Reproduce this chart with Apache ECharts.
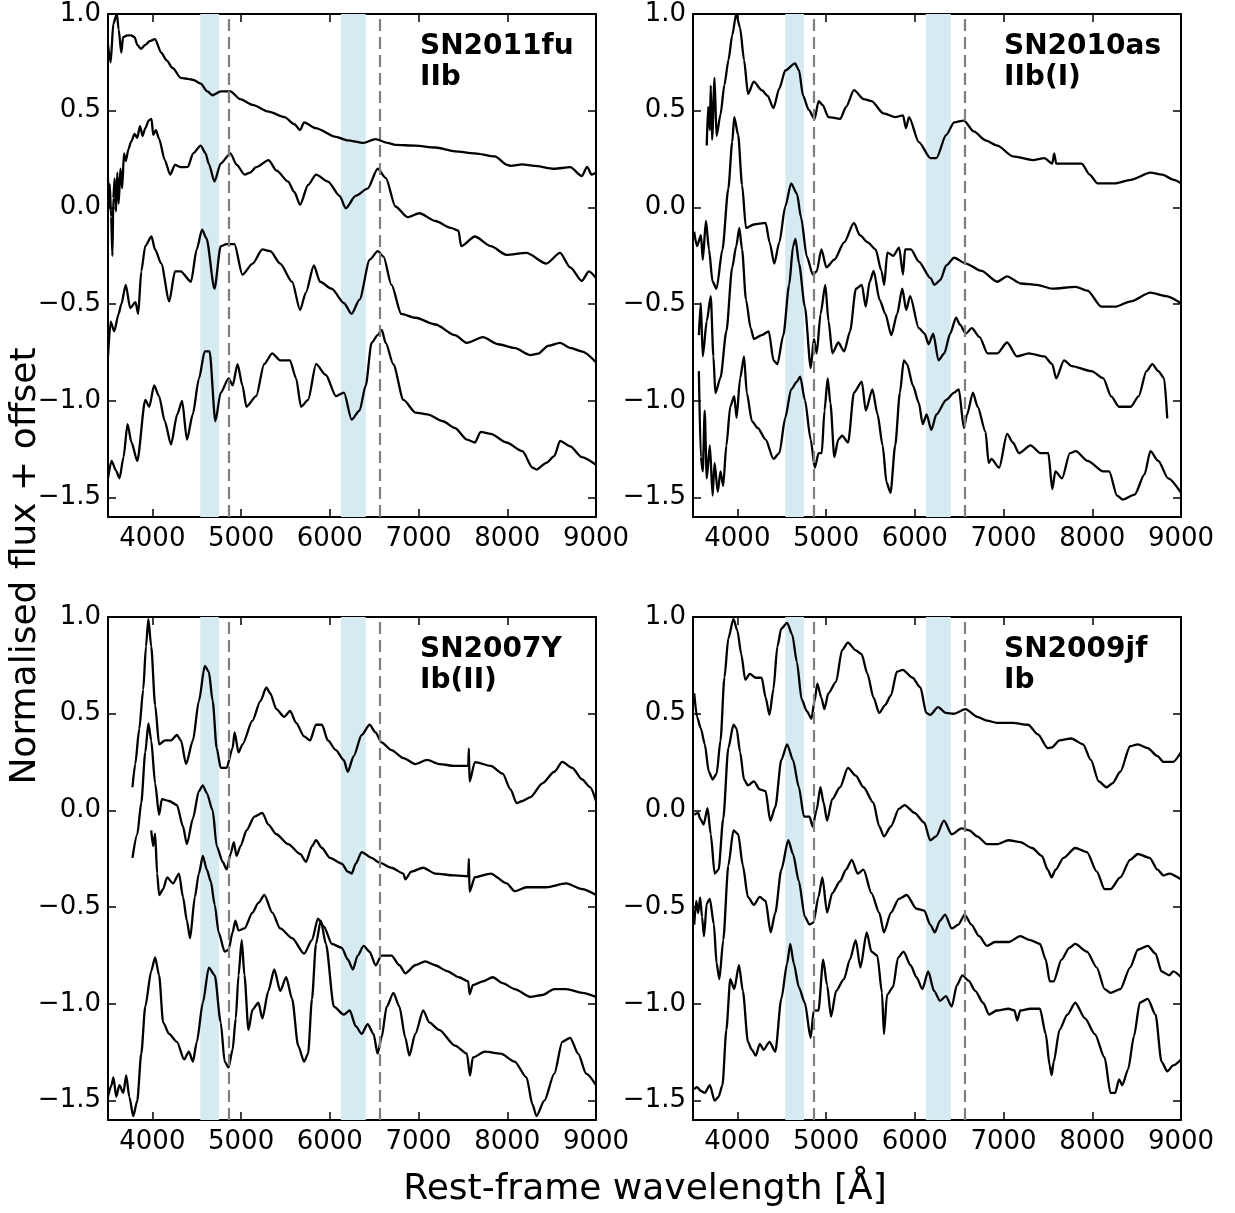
<!DOCTYPE html>
<html>
<head>
<meta charset="utf-8">
<script src="https://cdn.jsdelivr.net/npm/echarts@6/dist/echarts.min.js"></script>
<style>
  html, body { margin: 0; padding: 0; background: #fff; }
  #chart { width: 1235px; height: 1213px; }
</style>
</head>
<body>
<div id="chart"></div>
<script>
// Axis ticks
const xTicks = [4000, 5000, 6000, 7000, 8000, 9000];
const yTicks = [-1.5, -1.0, -0.5, 0.0, 0.5, 1.0];

// Panel labels
const snNames = ['SN2011fu', 'SN2010as', 'SN2007Y', 'SN2009jf'];
const snTypes = ['IIb', 'IIb(I)', 'Ib(II)', 'Ib'];

// Shaded wavelength windows and reference lines [Å]
const bands = [[4540, 4750], [6125, 6405]];
const refLines = [4861, 6563];

// SN2011fu spectra, [wavelength Å, normalised flux + offset]
const fu1 = [[3500,0.84],[3530,0.75],[3560,0.95],[3600,1.0],[3620,0.92],[3650,0.80],[3670,0.88],[3720,0.89],[3760,0.89],[3800,0.88],[3830,0.84],[3870,0.82],[3920,0.84],[3970,0.86],[4030,0.87],[4100,0.80],[4160,0.76],[4230,0.72],[4320,0.67],[4400,0.665],[4460,0.66],[4545,0.64],[4620,0.60],[4680,0.58],[4770,0.60],[4880,0.60],[4990,0.56],[5130,0.53],[5310,0.495],[5490,0.467],[5600,0.43],[5665,0.40],[5710,0.44],[5840,0.41],[6070,0.365],[6200,0.347],[6380,0.334],[6515,0.353],[6650,0.334],[6740,0.323],[6960,0.32],[7190,0.31],[7410,0.29],[7635,0.28],[7860,0.264],[8000,0.22],[8040,0.215],[8170,0.223],[8305,0.215],[8530,0.20],[8710,0.208],[8840,0.162],[8900,0.21],[8950,0.17],[9000,0.18]];
const fu2 = [[3500,0.15],[3510,0.0],[3520,0.12],[3535,-0.05],[3550,-0.25],[3560,0.05],[3575,0.15],[3590,-0.02],[3605,0.18],[3620,0.02],[3640,0.2],[3660,0.1],[3680,0.28],[3700,0.24],[3730,0.30],[3760,0.34],[3800,0.38],[3830,0.36],[3860,0.42],[3890,0.37],[3920,0.41],[3960,0.45],[3990,0.458],[4010,0.375],[4040,0.40],[4075,0.356],[4140,0.245],[4200,0.17],[4255,0.22],[4320,0.208],[4400,0.21],[4460,0.28],[4545,0.32],[4600,0.28],[4635,0.227],[4700,0.134],[4770,0.227],[4880,0.28],[4950,0.22],[5040,0.17],[5100,0.18],[5170,0.208],[5310,0.245],[5400,0.19],[5530,0.134],[5600,0.08],[5665,0.014],[5755,0.116],[5845,0.17],[5980,0.134],[6110,0.06],[6180,-0.004],[6290,0.06],[6425,0.097],[6540,0.20],[6630,0.153],[6740,0.005],[6875,-0.05],[7010,-0.03],[7190,-0.07],[7365,-0.105],[7450,-0.12],[7480,-0.2],[7635,-0.15],[7815,-0.2],[7990,-0.245],[8215,-0.235],[8440,-0.29],[8595,-0.235],[8710,-0.31],[8840,-0.38],[8920,-0.33],[9000,-0.365]];
const fu3 = [[3500,-0.77],[3530,-0.59],[3570,-0.64],[3620,-0.55],[3650,-0.50],[3700,-0.40],[3750,-0.52],[3810,-0.49],[3840,-0.55],[3875,-0.33],[3920,-0.2],[3990,-0.15],[4030,-0.217],[4100,-0.29],[4190,-0.485],[4255,-0.33],[4320,-0.33],[4435,-0.384],[4500,-0.217],[4560,-0.115],[4610,-0.16],[4700,-0.42],[4770,-0.2],[4835,-0.19],[4925,-0.19],[5015,-0.347],[5130,-0.29],[5240,-0.217],[5330,-0.226],[5440,-0.29],[5575,-0.384],[5665,-0.53],[5730,-0.44],[5820,-0.30],[5890,-0.384],[6020,-0.42],[6160,-0.495],[6245,-0.55],[6335,-0.476],[6450,-0.27],[6540,-0.226],[6605,-0.254],[6695,-0.40],[6805,-0.55],[6965,-0.57],[7190,-0.605],[7410,-0.66],[7545,-0.70],[7725,-0.67],[7900,-0.707],[8080,-0.726],[8260,-0.763],[8350,-0.755],[8460,-0.715],[8595,-0.70],[8710,-0.726],[8840,-0.744],[9000,-0.80]];
const fu4 = [[3500,-1.40],[3540,-1.31],[3590,-1.36],[3630,-1.40],[3675,-1.29],[3720,-1.12],[3765,-1.215],[3830,-1.31],[3920,-0.995],[3965,-1.03],[4020,-0.92],[4075,-0.975],[4140,-1.105],[4210,-1.225],[4280,-1.07],[4335,-1.0],[4390,-1.2],[4455,-1.07],[4525,-0.885],[4590,-0.744],[4645,-0.744],[4710,-1.105],[4770,-0.957],[4860,-0.883],[4905,-0.92],[4960,-0.81],[5015,-0.92],[5060,-1.03],[5170,-0.975],[5260,-0.81],[5350,-0.754],[5440,-0.79],[5550,-0.79],[5620,-0.883],[5675,-1.03],[5755,-0.995],[5845,-0.81],[5955,-0.866],[6070,-0.975],[6160,-0.957],[6245,-1.096],[6335,-1.05],[6405,-0.92],[6470,-0.70],[6540,-0.66],[6585,-0.633],[6630,-0.70],[6715,-0.81],[6830,-0.995],[6965,-1.06],[7100,-1.07],[7275,-1.105],[7410,-1.14],[7545,-1.2],[7635,-1.215],[7700,-1.16],[7815,-1.17],[7990,-1.215],[8170,-1.26],[8285,-1.345],[8330,-1.355],[8440,-1.32],[8530,-1.285],[8595,-1.207],[8710,-1.235],[8840,-1.29],[9000,-1.33]];

// SN2010as spectra
const as1 = [[3655,0.32],[3670,0.52],[3690,0.40],[3700,0.63],[3715,0.35],[3743,0.67],[3765,0.37],[3810,0.48],[3854,0.634],[3900,0.763],[3942,0.89],[3987,1.0],[4030,0.93],[4075,0.763],[4120,0.587],[4185,0.65],[4275,0.606],[4340,0.578],[4407,0.513],[4473,0.615],[4540,0.708],[4650,0.745],[4695,0.708],[4740,0.578],[4805,0.504],[4870,0.458],[4916,0.55],[4960,0.53],[5027,0.467],[5160,0.458],[5225,0.52],[5314,0.606],[5425,0.56],[5513,0.55],[5646,0.486],[5780,0.467],[5867,0.476],[5900,0.41],[5935,0.467],[6045,0.338],[6177,0.255],[6243,0.255],[6354,0.375],[6443,0.44],[6553,0.449],[6664,0.393],[6797,0.347],[6930,0.32],[7106,0.264],[7328,0.245],[7460,0.255],[7549,0.227],[7571,0.28],[7593,0.227],[7726,0.227],[7881,0.227],[7970,0.17],[8058,0.125],[8257,0.125],[8434,0.143],[8655,0.18],[8788,0.17],[8920,0.143],[9000,0.125]];
const as2 = [[3513,-0.125],[3545,-0.2],[3590,-0.143],[3610,-0.27],[3646,-0.07],[3680,-0.217],[3721,-0.384],[3765,-0.42],[3832,-0.217],[3898,0.097],[3942,0.338],[3965,0.467],[4009,0.375],[4053,0.116],[4097,-0.106],[4186,-0.088],[4319,-0.08],[4363,-0.18],[4416,-0.29],[4473,-0.18],[4540,0.005],[4606,0.125],[4672,0.07],[4717,-0.05],[4783,-0.254],[4850,-0.347],[4894,-0.33],[4947,-0.217],[5004,-0.31],[5093,-0.27],[5204,-0.18],[5314,-0.08],[5380,-0.143],[5470,-0.18],[5558,-0.217],[5624,-0.328],[5655,-0.4],[5690,-0.233],[5757,-0.25],[5823,-0.208],[5867,-0.347],[5890,-0.217],[5956,-0.217],[6045,-0.28],[6177,-0.365],[6221,-0.4],[6288,-0.375],[6354,-0.3],[6443,-0.26],[6575,-0.29],[6752,-0.328],[6930,-0.384],[7040,-0.356],[7195,-0.393],[7372,-0.4],[7549,-0.42],[7814,-0.41],[7947,-0.43],[8102,-0.513],[8257,-0.513],[8434,-0.485],[8655,-0.44],[8832,-0.458],[9000,-0.495]];
const as3 = [[3566,-0.66],[3588,-0.495],[3610,-0.77],[3655,-0.587],[3700,-0.458],[3730,-0.77],[3752,-0.96],[3810,-0.88],[3876,-0.64],[3942,-0.31],[3987,-0.2],[4022,-0.106],[4053,-0.217],[4097,-0.476],[4150,-0.624],[4186,-0.68],[4275,-0.66],[4354,-0.64],[4407,-0.79],[4451,-0.81],[4518,-0.66],[4584,-0.4],[4628,-0.2],[4655,-0.162],[4695,-0.29],[4761,-0.513],[4827,-0.83],[4863,-0.68],[4894,-0.754],[4938,-0.55],[4991,-0.4],[5027,-0.587],[5071,-0.754],[5137,-0.698],[5204,-0.744],[5270,-0.64],[5336,-0.42],[5403,-0.4],[5447,-0.513],[5491,-0.384],[5536,-0.328],[5602,-0.476],[5668,-0.55],[5735,-0.66],[5801,-0.55],[5859,-0.42],[5903,-0.53],[5947,-0.458],[6045,-0.624],[6111,-0.652],[6155,-0.707],[6208,-0.652],[6266,-0.79],[6332,-0.754],[6398,-0.652],[6465,-0.57],[6509,-0.606],[6575,-0.652],[6642,-0.624],[6730,-0.67],[6819,-0.754],[6930,-0.754],[7040,-0.698],[7151,-0.77],[7284,-0.754],[7460,-0.77],[7549,-0.81],[7593,-0.883],[7682,-0.79],[7770,-0.82],[7991,-0.846],[8124,-0.883],[8213,-0.976],[8301,-1.03],[8434,-1.03],[8522,-0.976],[8611,-0.846],[8677,-0.81],[8744,-0.846],[8810,-0.883],[8845,-1.09]];
const as4 = [[3566,-0.846],[3588,-1.29],[3610,-1.364],[3632,-1.05],[3655,-1.4],[3690,-1.23],[3721,-1.49],[3743,-1.32],[3779,-1.47],[3810,-1.364],[3840,-1.44],[3876,-1.23],[3920,-1.03],[3965,-0.975],[3991,-1.087],[4031,-0.883],[4075,-0.77],[4106,-0.957],[4164,-1.105],[4230,-1.14],[4319,-1.2],[4407,-1.3],[4473,-1.27],[4540,-1.087],[4606,-0.94],[4672,-0.9],[4708,-0.874],[4761,-0.995],[4827,-1.2],[4872,-1.345],[4916,-1.27],[4951,-1.27],[4982,-1.05],[5018,-0.883],[5049,-1.013],[5093,-1.29],[5137,-1.2],[5181,-1.18],[5248,-1.215],[5314,-0.957],[5403,-0.9],[5447,-1.05],[5522,-0.94],[5580,-1.07],[5637,-1.23],[5681,-1.42],[5726,-1.475],[5779,-1.23],[5832,-0.957],[5876,-0.79],[5912,-0.81],[5978,-0.92],[6045,-1.01],[6089,-1.12],[6133,-1.07],[6186,-1.15],[6243,-1.07],[6354,-0.995],[6443,-0.957],[6496,-0.94],[6553,-1.14],[6589,-1.07],[6655,-0.957],[6708,-1.03],[6797,-1.16],[6832,-1.32],[6863,-1.30],[6951,-1.345],[7040,-1.17],[7106,-1.215],[7173,-1.27],[7305,-1.23],[7416,-1.27],[7505,-1.27],[7549,-1.456],[7584,-1.364],[7659,-1.4],[7748,-1.27],[7814,-1.26],[7947,-1.31],[8124,-1.364],[8190,-1.364],[8279,-1.49],[8345,-1.51],[8478,-1.484],[8589,-1.38],[8655,-1.26],[8744,-1.31],[8855,-1.4],[9000,-1.475]];

// SN2007Y spectra
const y1 = [[3776,0.12],[3807,0.24],[3852,0.42],[3897,0.625],[3928,0.848],[3955,0.99],[3987,0.848],[4031,0.545],[4076,0.342],[4143,0.362],[4210,0.362],[4277,0.39],[4322,0.362],[4380,0.24],[4457,0.362],[4524,0.565],[4591,0.747],[4636,0.717],[4680,0.565],[4725,0.322],[4770,0.22],[4837,0.22],[4904,0.322],[4927,0.403],[4971,0.30],[5016,0.342],[5128,0.464],[5217,0.565],[5285,0.636],[5329,0.605],[5397,0.524],[5486,0.484],[5553,0.514],[5620,0.453],[5710,0.383],[5777,0.362],[5844,0.443],[5911,0.443],[5978,0.362],[6068,0.312],[6157,0.261],[6202,0.2],[6269,0.281],[6359,0.39],[6448,0.443],[6516,0.403],[6583,0.352],[6695,0.312],[6829,0.271],[6963,0.24],[7097,0.261],[7232,0.24],[7411,0.23],[7560,0.23],[7567,0.32],[7575,0.15],[7635,0.25],[7814,0.23],[7948,0.19],[8037,0.109],[8105,0.038],[8172,0.049],[8262,0.069],[8396,0.14],[8530,0.2],[8620,0.251],[8732,0.22],[8844,0.16],[8934,0.12],[9000,0.049]];
const y2 = [[3776,-0.245],[3830,-0.123],[3875,0.04],[3920,0.30],[3955,0.45],[3987,0.362],[4031,0.14],[4076,-0.022],[4107,0.059],[4188,0.049],[4277,0.028],[4345,-0.083],[4389,-0.174],[4457,-0.042],[4524,0.1],[4569,0.13],[4613,0.09],[4680,0.0],[4725,-0.184],[4792,-0.265],[4837,-0.305],[4882,-0.225],[4918,-0.164],[4949,-0.235],[4994,-0.184],[5061,-0.103],[5150,-0.032],[5240,-0.012],[5307,-0.073],[5397,-0.123],[5531,-0.174],[5665,-0.225],[5732,-0.265],[5799,-0.184],[5844,-0.154],[5911,-0.194],[6001,-0.245],[6135,-0.275],[6202,-0.316],[6247,-0.326],[6292,-0.275],[6359,-0.215],[6471,-0.245],[6560,-0.27],[6695,-0.296],[6829,-0.326],[6851,-0.356],[6918,-0.316],[7052,-0.296],[7187,-0.326],[7411,-0.336],[7560,-0.34],[7567,-0.25],[7575,-0.42],[7635,-0.345],[7814,-0.326],[7993,-0.377],[8083,-0.417],[8217,-0.397],[8440,-0.397],[8664,-0.377],[8844,-0.407],[9000,-0.437]];
const y3 = [[3987,-0.103],[4009,-0.184],[4031,-0.12],[4054,-0.326],[4076,-0.437],[4121,-0.407],[4166,-0.346],[4233,-0.377],[4300,-0.326],[4345,-0.447],[4389,-0.569],[4425,-0.66],[4479,-0.447],[4524,-0.326],[4569,-0.235],[4613,-0.305],[4658,-0.366],[4703,-0.488],[4747,-0.63],[4815,-0.73],[4859,-0.72],[4904,-0.63],[4935,-0.569],[4971,-0.62],[5038,-0.61],[5128,-0.528],[5195,-0.478],[5262,-0.437],[5352,-0.528],[5441,-0.61],[5575,-0.66],[5710,-0.74],[5799,-0.67],[5866,-0.559],[5933,-0.6],[6023,-0.69],[6135,-0.71],[6202,-0.77],[6260,-0.822],[6314,-0.75],[6381,-0.7],[6448,-0.73],[6516,-0.8],[6583,-0.75],[6695,-0.75],[6784,-0.8],[6851,-0.842],[6963,-0.8],[7075,-0.78],[7187,-0.8],[7321,-0.83],[7455,-0.862],[7560,-0.883],[7575,-0.95],[7612,-0.903],[7724,-0.883],[7836,-0.862],[7948,-0.893],[8083,-0.923],[8262,-0.964],[8396,-0.954],[8530,-0.923],[8664,-0.923],[8844,-0.943],[9000,-0.964]];
const y4 = [[3499,-1.48],[3540,-1.42],[3561,-1.38],[3593,-1.48],[3628,-1.42],[3673,-1.46],[3705,-1.37],[3740,-1.48],[3785,-1.58],[3830,-1.5],[3875,-1.257],[3920,-1.014],[3987,-0.83],[4031,-0.76],[4076,-0.852],[4121,-1.095],[4188,-1.155],[4277,-1.196],[4358,-1.287],[4412,-1.247],[4457,-1.298],[4501,-1.196],[4569,-0.994],[4636,-0.812],[4703,-0.852],[4770,-1.095],[4815,-1.298],[4859,-1.328],[4904,-1.237],[4940,-1.075],[4971,-0.852],[5007,-0.67],[5038,-0.852],[5083,-1.134],[5128,-1.03],[5195,-0.994],[5240,-1.075],[5307,-0.933],[5374,-0.822],[5441,-0.933],[5508,-0.862],[5575,-0.974],[5643,-1.216],[5710,-1.298],[5755,-1.257],[5799,-0.974],[5844,-0.69],[5898,-0.569],[5956,-0.69],[6046,-1.014],[6157,-1.055],[6225,-1.034],[6292,-1.115],[6359,-1.155],[6426,-1.105],[6493,-1.155],[6538,-1.257],[6583,-1.175],[6641,-1.014],[6717,-0.943],[6784,-1.014],[6851,-1.175],[6896,-1.267],[6963,-1.155],[7053,-1.034],[7120,-1.095],[7232,-1.134],[7411,-1.216],[7545,-1.257],[7580,-1.37],[7612,-1.277],[7747,-1.247],[7926,-1.257],[8083,-1.298],[8217,-1.38],[8284,-1.52],[8329,-1.58],[8418,-1.5],[8530,-1.36],[8620,-1.196],[8709,-1.175],[8799,-1.257],[8889,-1.36],[9000,-1.42]];

// SN2009jf spectra
const jf1 = [[3514,0.605],[3545,0.484],[3589,0.423],[3633,0.342],[3678,0.2],[3722,0.16],[3766,0.19],[3810,0.362],[3854,0.686],[3898,0.889],[3956,0.99],[4000,0.93],[4044,0.808],[4088,0.676],[4141,0.706],[4208,0.686],[4274,0.686],[4318,0.585],[4362,0.494],[4406,0.626],[4451,0.848],[4495,0.94],[4561,0.97],[4618,0.909],[4671,0.767],[4724,0.575],[4782,0.514],[4835,0.474],[4870,0.565],[4901,0.656],[4945,0.585],[4981,0.524],[5025,0.605],[5113,0.666],[5179,0.828],[5246,0.868],[5334,0.828],[5400,0.808],[5466,0.706],[5533,0.585],[5599,0.504],[5665,0.545],[5731,0.595],[5798,0.717],[5864,0.727],[5974,0.686],[6063,0.636],[6129,0.504],[6173,0.494],[6262,0.534],[6350,0.504],[6438,0.5],[6571,0.524],[6703,0.484],[6814,0.464],[6924,0.453],[7101,0.453],[7277,0.443],[7388,0.393],[7498,0.322],[7542,0.326],[7631,0.362],[7763,0.372],[7896,0.342],[7984,0.261],[8073,0.15],[8161,0.12],[8227,0.14],[8316,0.2],[8426,0.332],[8514,0.342],[8625,0.322],[8735,0.281],[8802,0.251],[8912,0.251],[9000,0.302]];
const jf2 = [[3514,-0.022],[3558,-0.012],[3580,-0.042],[3620,-0.073],[3664,0.012],[3700,-0.123],[3744,-0.326],[3788,-0.306],[3841,-0.042],[3898,0.322],[3956,0.443],[3991,0.423],[4031,0.302],[4075,0.16],[4119,0.13],[4186,0.15],[4252,0.109],[4318,0.1],[4371,-0.053],[4428,0.018],[4495,0.261],[4561,0.342],[4627,0.261],[4693,0.12],[4751,-0.032],[4813,-0.032],[4848,-0.083],[4892,0.0],[4936,0.12],[4972,0.04],[5011,-0.053],[5069,0.059],[5157,0.12],[5246,0.22],[5334,0.18],[5422,0.12],[5533,0.04],[5599,-0.083],[5652,-0.134],[5731,-0.083],[5820,0.008],[5886,0.028],[5996,-0.012],[6107,-0.063],[6173,-0.154],[6239,-0.134],[6328,-0.053],[6416,-0.123],[6527,-0.093],[6615,-0.103],[6703,-0.134],[6814,-0.174],[6924,-0.174],[7057,-0.154],[7189,-0.164],[7322,-0.194],[7432,-0.235],[7498,-0.306],[7542,-0.346],[7587,-0.306],[7675,-0.245],[7808,-0.194],[7940,-0.215],[8051,-0.316],[8139,-0.407],[8205,-0.407],[8316,-0.346],[8426,-0.255],[8514,-0.225],[8647,-0.245],[8735,-0.306],[8802,-0.336],[8868,-0.326],[9000,-0.356]];
const jf3 = [[3514,-0.59],[3536,-0.468],[3558,-0.53],[3580,-0.45],[3602,-0.55],[3624,-0.65],[3655,-0.48],[3690,-0.457],[3735,-0.588],[3766,-0.791],[3797,-0.872],[3841,-0.67],[3898,-0.285],[3956,-0.103],[4009,-0.123],[4062,-0.285],[4119,-0.447],[4186,-0.488],[4252,-0.447],[4318,-0.468],[4375,-0.63],[4428,-0.528],[4495,-0.306],[4574,-0.154],[4627,-0.225],[4693,-0.366],[4760,-0.549],[4813,-0.59],[4857,-0.58],[4914,-0.447],[4958,-0.346],[5011,-0.528],[5069,-0.427],[5157,-0.366],[5224,-0.306],[5290,-0.255],[5356,-0.326],[5422,-0.306],[5511,-0.427],[5599,-0.528],[5652,-0.63],[5731,-0.528],[5820,-0.457],[5908,-0.437],[6019,-0.508],[6107,-0.518],[6173,-0.59],[6226,-0.63],[6284,-0.569],[6341,-0.538],[6416,-0.61],[6491,-0.59],[6562,-0.538],[6637,-0.59],[6725,-0.65],[6814,-0.7],[6902,-0.68],[7057,-0.68],[7189,-0.65],[7300,-0.67],[7410,-0.69],[7476,-0.771],[7520,-0.883],[7565,-0.883],[7653,-0.771],[7741,-0.71],[7808,-0.69],[7940,-0.73],[8051,-0.812],[8139,-0.923],[8205,-0.943],[8316,-0.923],[8426,-0.812],[8514,-0.72],[8625,-0.7],[8713,-0.74],[8780,-0.832],[8868,-0.852],[8912,-0.832],[9000,-0.862]];
const jf4 = [[3514,-1.44],[3545,-1.43],[3589,-1.45],[3633,-1.46],[3690,-1.42],[3744,-1.5],[3788,-1.48],[3832,-1.42],[3876,-1.134],[3920,-0.872],[3965,-0.923],[4018,-0.8],[4062,-0.933],[4119,-1.196],[4163,-1.237],[4208,-1.267],[4252,-1.206],[4296,-1.237],[4362,-1.196],[4428,-1.247],[4495,-0.974],[4561,-0.79],[4596,-0.69],[4636,-0.79],[4693,-0.913],[4760,-0.994],[4826,-1.175],[4861,-1.034],[4914,-1.034],[4967,-0.771],[5011,-0.903],[5056,-1.065],[5113,-0.933],[5201,-0.872],[5268,-0.771],[5334,-0.67],[5387,-0.812],[5458,-0.63],[5511,-0.73],[5577,-0.75],[5630,-0.943],[5652,-1.156],[5687,-0.953],[5754,-0.913],[5811,-0.761],[5873,-0.73],[5952,-0.8],[6019,-0.862],[6085,-0.923],[6151,-0.832],[6217,-0.933],[6284,-0.984],[6350,-0.96],[6416,-1.014],[6474,-0.903],[6536,-0.852],[6606,-0.88],[6681,-0.933],[6770,-0.994],[6836,-1.055],[6924,-1.034],[7057,-1.025],[7123,-1.034],[7154,-1.085],[7189,-1.034],[7300,-1.025],[7410,-1.025],[7476,-1.156],[7520,-1.318],[7542,-1.368],[7565,-1.3],[7631,-1.134],[7719,-1.055],[7808,-0.994],[7918,-1.075],[8029,-1.156],[8139,-1.277],[8205,-1.46],[8258,-1.46],[8302,-1.39],[8338,-1.42],[8404,-1.338],[8470,-1.166],[8536,-0.994],[8625,-0.974],[8713,-1.055],[8780,-1.298],[8846,-1.348],[8912,-1.318],[9000,-1.287]];

const spectraSets = [[fu1, fu2, fu3, fu4], [as1, as2, as3, as4], [y1, y2, y3, y4], [jf1, jf2, jf3, jf4]];

// Layout of the 2 x 2 panel grid (pixels)
const gridBoxes = [
  { left: 108, top: 14 }, { left: 693, top: 14 },
  { left: 108, top: 617 }, { left: 693, top: 617 }
];
const PW = 488, PH = 503;
const FONT = 'DejaVu Sans';

const fmtY = v => (v < 0 ? '\u2212' : '') + Math.abs(v).toFixed(1);
const fmtX = v => String(Math.round(v));

const grid = [], xAxis = [], yAxis = [], series = [], graphic = [];

gridBoxes.forEach((g, i) => {
  grid.push({ left: g.left, top: g.top, width: PW, height: PH, containLabel: false });

  const spine = { show: true, onZero: false, lineStyle: { color: '#000', width: 2 } };
  const tickX = { show: true, inside: true, length: 8, customValues: xTicks, lineStyle: { color: '#000', width: 1.5 } };
  const tickY = { show: true, inside: true, length: 8, customValues: yTicks, lineStyle: { color: '#000', width: 1.5 } };

  xAxis.push({
    gridIndex: i, type: 'value', position: 'bottom', min: 3500, max: 9000,
    axisLine: spine, axisTick: tickX, splitLine: { show: false },
    axisLabel: { customValues: xTicks, formatter: fmtX, color: '#000', fontSize: 26, fontFamily: FONT, margin: 9 }
  });
  xAxis.push({
    gridIndex: i, type: 'value', position: 'top', min: 3500, max: 9000,
    axisLine: spine, axisTick: tickX, splitLine: { show: false }, axisLabel: { show: false }
  });
  yAxis.push({
    gridIndex: i, type: 'value', position: 'left', min: -1.6, max: 1.0,
    axisLine: spine, axisTick: tickY, splitLine: { show: false },
    axisLabel: { customValues: yTicks, formatter: fmtY, color: '#000', fontSize: 26, fontFamily: FONT, margin: 7 }
  });
  yAxis.push({
    gridIndex: i, type: 'value', position: 'right', min: -1.6, max: 1.0,
    axisLine: spine, axisTick: tickY, splitLine: { show: false }, axisLabel: { show: false }
  });

  // shaded windows and dashed reference lines
  series.push({
    type: 'line', xAxisIndex: 2 * i, yAxisIndex: 2 * i, data: [], z: 1, silent: true,
    markArea: {
      silent: true, itemStyle: { color: '#d6eaf2' },
      data: bands.map(b => [{ xAxis: b[0] }, { xAxis: b[1] }])
    },
    markLine: {
      silent: true, symbol: 'none', label: { show: false },
      lineStyle: { color: '#808080', type: [12, 6], width: 2.2 },
      data: refLines.map(w => ({ xAxis: w }))
    }
  });

  spectraSets[i].forEach(spec => {
    series.push({
      type: 'line', xAxisIndex: 2 * i, yAxisIndex: 2 * i, data: spec, z: 3,
      showSymbol: false, symbol: 'none', silent: true, clip: true,
      smooth: 0.25, smoothMonotone: 'x',
      lineStyle: { color: '#000', width: 2.3, join: 'round' }
    });
  });

  graphic.push({
    type: 'text', x: g.left + (i % 2 === 0 ? 312 : 311), y: g.top + 33,
    style: { text: snNames[i], fill: '#000', font: 'bold 28px "' + FONT + '"', verticalAlign: 'middle' }
  });
  graphic.push({
    type: 'text', x: g.left + (i % 2 === 0 ? 312 : 311), y: g.top + 64,
    style: { text: snTypes[i], fill: '#000', font: 'bold 28px "' + FONT + '"', verticalAlign: 'middle' }
  });
});

// axis titles
graphic.push({
  type: 'text', x: 26, y: 566, rotation: Math.PI / 2,
  style: { text: 'Normalised flux + offset', fill: '#000', font: '36px "' + FONT + '"', align: 'center', verticalAlign: 'middle' }
});
graphic.push({
  type: 'text', x: 645, y: 1190,
  style: { text: 'Rest-frame wavelength [\u00c5]', fill: '#000', font: '36px "' + FONT + '"', align: 'center', verticalAlign: 'middle' }
});

const chart = echarts.init(document.getElementById('chart'), null, { renderer: 'canvas' });
chart.setOption({
  animation: false,
  backgroundColor: '#fff',
  grid, xAxis, yAxis, series, graphic
});
</script>
</body>
</html>
